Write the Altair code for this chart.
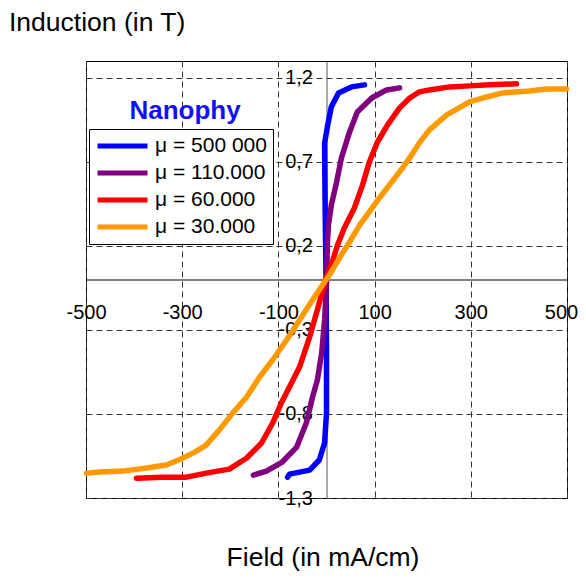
import altair as alt
import pandas as pd

# ---- data ----
series_names = ["μ = 500 000", "μ = 110.000", "μ = 60.000", "μ = 30.000"]
series_colors = ["#0000FF", "#800080", "#FF0000", "#FF9900"]

blue_x = [-81, -77, -35, -15, -4, 0, 0, -1, -3, -4, 2, 10, 25, 52, 79]
blue_y = [-1.176, -1.158, -1.134, -1.074, -0.973, -0.795, -0.42, 0.0, 0.473, 0.81, 0.91, 1.027, 1.11, 1.146, 1.158]

purple_x = [-152, -125, -92, -62, -42, -29, -19, -10, -4, 0, 2, 4, 10, 21, 31, 48, 64, 94, 125, 152]
purple_y = [-1.164, -1.14, -1.086, -0.997, -0.854, -0.699, -0.598, -0.438, -0.241, -0.033, 0.223, 0.324,
            0.443, 0.58, 0.723, 0.878, 0.997, 1.08, 1.128, 1.14]

red_x = [-395, -341, -291, -250, -202, -166, -135, -112, -94, -77, -56, -35, -15, -2, 10, 23, 37, 58, 75,
         89, 106, 127, 152, 173, 193, 214, 256, 297, 339, 395]
red_y = [-1.182, -1.176, -1.176, -1.152, -1.128, -1.062, -0.973, -0.854, -0.735, -0.64, -0.521, -0.342,
         -0.14, 0.0, 0.086, 0.205, 0.307, 0.426, 0.563, 0.699, 0.818, 0.92, 1.021, 1.08, 1.116, 1.128,
         1.146, 1.152, 1.158, 1.164]

orange_x = [-499, -472, -424, -374, -333, -299, -274, -250, -223, -195, -166, -139, -112, -83, -56, -29,
            -4, 6, 27, 48, 69, 89, 110, 131, 152, 173, 193, 214, 250, 283, 297, 333, 366, 422, 457, 499]
orange_y = [-1.152, -1.146, -1.14, -1.122, -1.104, -1.063, -1.027, -0.985, -0.896, -0.795, -0.699, -0.58,
            -0.479, -0.36, -0.241, -0.122, -0.015, 0.027, 0.128, 0.223, 0.324, 0.402, 0.485, 0.563, 0.64,
            0.723, 0.813, 0.89, 0.979, 1.033, 1.057, 1.086, 1.11, 1.122, 1.134, 1.134]

x_ticks = [-500, -300, -100, 100, 300, 500]
y_ticks = [-1.3, -0.8, -0.3, 0.2, 0.7, 1.2]
legend_title = "Nanophy"

rows = []
for name, xs, ys in zip(series_names, [blue_x, purple_x, red_x, orange_x],
                        [blue_y, purple_y, red_y, orange_y]):
    for i, (xv, yv) in enumerate(zip(xs, ys)):
        rows.append({"series": name, "field": xv, "induction": yv, "i": i})
df = pd.DataFrame(rows)

FONT = "Liberation Sans"
W, H = 481, 437

x_scale = alt.Scale(domain=[-500, 500], nice=False, zero=False)
y_scale = alt.Scale(domain=[-1.3, 1.3], nice=False, zero=False)

lines = alt.Chart(df).mark_line(strokeWidth=5.5, strokeCap="round", strokeJoin="round").encode(
    x=alt.X("field:Q", scale=x_scale,
            axis=alt.Axis(values=x_ticks, orient="bottom", offset=-218.5, title="Field (in mA/cm)",
                          titleX=236.5, titleY=285.5, titleBaseline="alphabetic", titleAlign="center",
                          titleFont=FONT, titleFontSize=26.5, titleFontWeight="normal", titleColor="black",
                          labelExpr="toString(datum.value)", labelFont=FONT, labelFontSize=20,
                          labelColor="black", labelPadding=23, labelFlush=False, labelOverlap=False,
                          labelOffset={"condition": {"test": "datum.value == 500", "value": -6}, "value": 0},
                          ticks=False, tickSize=0, domainColor="black", domainWidth=1,
                          grid=True, gridDash=[6, 4], gridColor="#333333", gridWidth=1)),
    y=alt.Y("induction:Q", scale=y_scale,
            axis=alt.Axis(values=y_ticks, orient="left", offset=-240.5, title="Induction (in T)",
                          titleAngle=0, titleX=-318, titleY=-52, titleBaseline="top", titleAlign="left",
                          titleFont=FONT, titleFontSize=26.5, titleFontWeight="normal", titleColor="black",
                          labelExpr="replace(toString(datum.value), '.', ',')", labelFont=FONT,
                          labelFontSize=20, labelColor="black", labelPadding=14, labelFlush=False,
                          labelOverlap=False, ticks=False, tickSize=0, domainColor="#555555",
                          domainWidth=1, grid=True, gridDash=[6, 4], gridColor="#333333", gridWidth=1)),
    color=alt.Color("series:N", sort=series_names,
                    scale=alt.Scale(domain=series_names, range=series_colors),
                    legend=alt.Legend(orient="none", legendX=3, legendY=68, title=None,
                                      strokeColor="black", fillColor="white", padding=6,
                                      symbolType="stroke", symbolSize=2500, symbolStrokeWidth=5,
                                      labelFont=FONT, labelFontSize=21, labelColor="black",
                                      labelOffset=5, clipHeight=22, rowPadding=5)),
    order=alt.Order("i:Q"),
)

title_df = pd.DataFrame({"t": [legend_title]})
nano = alt.Chart(title_df).mark_text(font=FONT, fontSize=26, fontWeight="bold", color="#1010FF",
                                     align="center", baseline="middle").encode(
    text="t:N", x=alt.value(99), y=alt.value(50))

chart = alt.layer(lines, nano).properties(
    width=W, height=H,
    autosize=alt.AutoSizeParams(type="none"),
    padding={"left": 78, "top": 53, "right": 11, "bottom": 74},
).configure_view(stroke="black", strokeWidth=1)

chart.save("out.html", embed_options={"renderer": "svg", "actions": False})
